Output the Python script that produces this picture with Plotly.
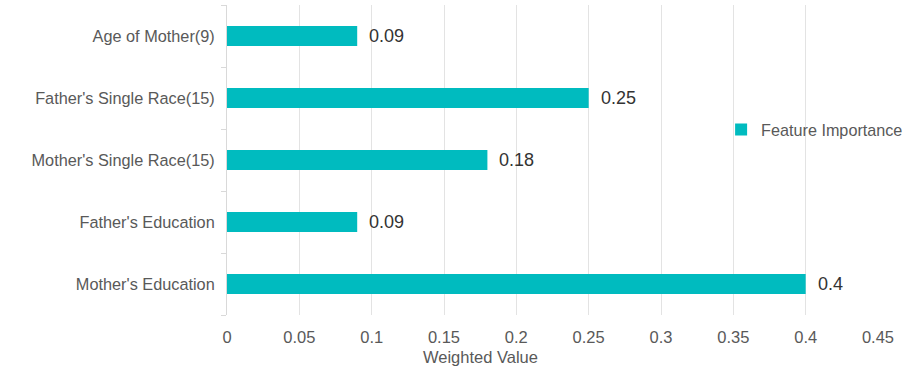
import plotly.graph_objects as go

categories = ["Mother's Education", "Father's Education", "Mother's Single Race(15)",
              "Father's Single Race(15)", "Age of Mother(9)"]
values = [0.4, 0.09, 0.18, 0.25, 0.09]
value_labels = ["0.4", "0.09", "0.18", "0.25", "0.09"]
x_ticks = [0, 0.05, 0.1, 0.15, 0.2, 0.25, 0.3, 0.35, 0.4, 0.45]
x_tick_labels = ["0", "0.05", "0.1", "0.15", "0.2", "0.25", "0.3", "0.35", "0.4", "0.45"]

FONT = "Liberation Sans, Arial, sans-serif"
LBL = "#595959"

fig = go.Figure()
fig.add_trace(go.Bar(
    y=categories, x=values, orientation="h", name="Feature Importance",
    marker=dict(color="#00BBBF", line=dict(width=0)),
    hoverinfo="x+y",
))
for c, v, t in zip(categories, values, value_labels):
    fig.add_annotation(x=v, y=c, text=t, showarrow=False, xanchor="left",
                       xshift=10, font=dict(size=18, color="#333333", family=FONT))

fig.add_annotation(x=0.389, y=0, xref="paper", yref="paper", yshift=-42,
                   text="Weighted Value", showarrow=False, xanchor="center", yanchor="middle",
                   font=dict(size=16.5, color=LBL, family=FONT))

fig.update_layout(
    width=910, height=374,
    margin=dict(l=227, r=32, t=5, b=59, autoexpand=False),
    paper_bgcolor="white", plot_bgcolor="white",
    bargap=0.68,
    showlegend=True,
    legend=dict(x=0.759, y=0.597, xanchor="left", yanchor="middle",
                font=dict(size=16.2, color=LBL, family=FONT),
                bgcolor="rgba(0,0,0,0)", itemwidth=30),
    font=dict(family=FONT, color=LBL, size=16.5),
    xaxis=dict(range=[0, 0.45], tickvals=x_ticks, ticktext=x_tick_labels,
               showgrid=True, gridcolor="#E3E3E3", gridwidth=1,
               zeroline=False, showline=False, ticks="", automargin=False,
               tickfont=dict(size=16.5, color=LBL),
               ticklabelstandoff=10),
    yaxis=dict(type="category", categoryorder="array", categoryarray=categories,
               showline=True, linecolor="#D9D9D9", linewidth=1, automargin=False,
               ticks="outside", tickson="boundaries", ticklen=5, tickcolor="#D9D9D9",
               showgrid=False, tickfont=dict(size=16.3, color=LBL),
               ticklabelstandoff=8),
)
fig.write_html("out.html", config={"displayModeBar": False},
               post_script="document.body.style.margin='0';")
